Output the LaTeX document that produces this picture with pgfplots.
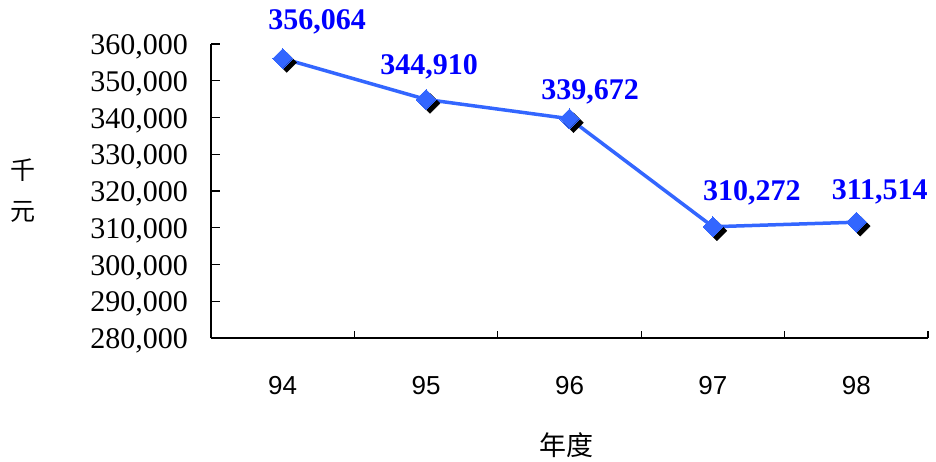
\documentclass[border=0pt]{standalone}
\usepackage{fontspec}
\setmainfont{Liberation Serif}
\newfontfamily\cjk{Noto Sans CJK TC}
\newfontfamily\lsans{Liberation Sans}
\usepackage{pgfplots}
\usepackage{pgfplotstable}
\pgfplotsset{compat=1.18}
\definecolor{lineblue}{RGB}{51,102,255}
\pgfplotstableread{
x y dx dy label
0 356064 34.3 36.5 356,064
1 344910 3 32.5 344,910
2 339672 20.5 26.7 339,672
3 310272 39 33.7 310,272
4 311514 23.5 30.2 311,514
}\datatable
\begin{document}
\begin{tikzpicture}
\path[use as bounding box] (0,0) rectangle (936pt,462pt);
\begin{axis}[
  at={(211pt,124pt)}, anchor=south west,
  scale only axis, width=717pt, height=294pt,
  xmin=-0.5, xmax=4.5, ymin=280000, ymax=360000,
  axis x line*=bottom, axis y line*=left,
  axis line style={line width=1.2pt},
  tick align=inside,
  xtick={0,1,2,3,4}, xticklabels={94,95,96,97,98},
  minor xtick={-0.5,0.5,1.5,2.5,3.5,4.5},
  major x tick style={draw=none},
  minor x tick style={line width=1.2pt, black},
  minor tick length=7pt,
  ytick={280000,290000,...,360000},
  major tick length=9pt,
  ytick style={line width=1.2pt, black},
  scaled y ticks=false,
  /pgf/number format/assume math mode=true,
  yticklabel style={/pgf/number format/.cd, fixed, precision=0, 1000 sep={,}, /tikz/.cd, font=\fontsize{30}{30}\selectfont, inner sep=0pt, anchor=east, xshift=-23pt, yshift=-3pt},
  xticklabel style={font=\lsans\fontsize{26}{26}\selectfont, inner sep=0pt, anchor=north, yshift=-38pt},
  ylabel={千\\元},
  ylabel style={rotate=-90, align=center, font=\cjk\fontsize{25}{41}\selectfont, at={(axis description cs:-0.262,0.5)}, anchor=center},
  xlabel={年度},
  xlabel style={font=\cjk\fontsize{27}{27}\selectfont, at={(axis description cs:0.4965,-0.364)}, anchor=center},
  clip=false,
]
\addplot[draw=none, mark=square*, mark size=7pt, mark options={xshift=4pt, yshift=-4pt, rotate=45, fill=black, draw=black}] table[x=x, y=y] {\datatable};
\addplot[lineblue, line width=3.5pt, mark=square*, mark size=7pt, mark options={fill=lineblue, draw=lineblue, rotate=45, line width=0pt},
  point meta=explicit symbolic,
  visualization depends on={\thisrow{dx}\as\dx},
  visualization depends on={\thisrow{dy}\as\dy},
  nodes near coords,
  nodes near coords style={anchor=center, xshift=\dx pt, yshift=\dy pt, font=\bfseries\fontsize{30}{30}\selectfont, text=blue, inner sep=0pt},
] table[x=x, y=y, meta=label] {\datatable};
\end{axis}
\end{tikzpicture}
\end{document}
